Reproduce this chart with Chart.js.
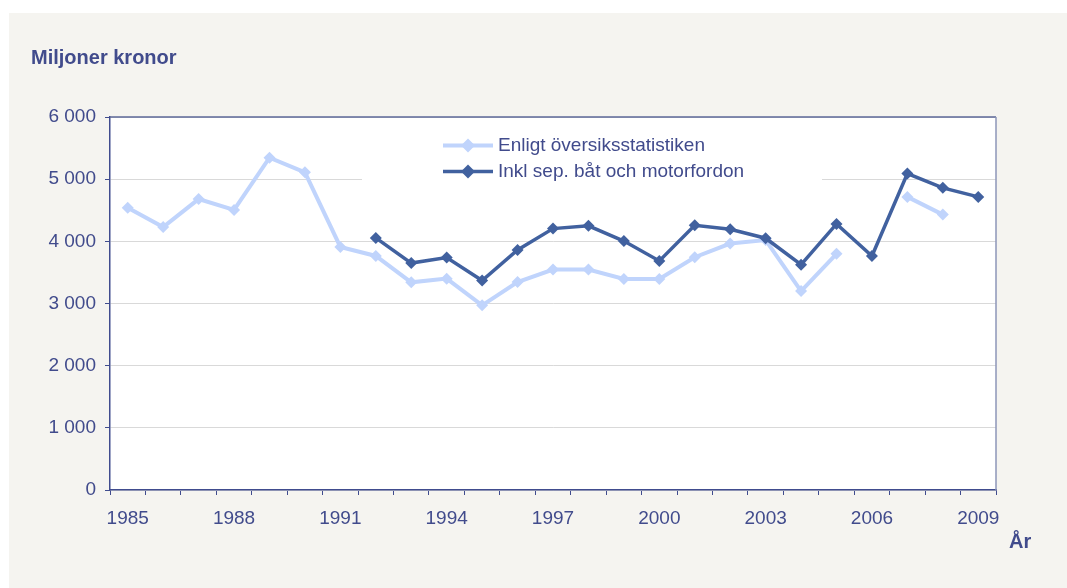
<!DOCTYPE html>
<html>
<head>
<meta charset="utf-8">
<script src="https://cdn.jsdelivr.net/npm/chart.js@4/dist/chart.umd.min.js"></script>
<style>
  html, body { margin: 0; padding: 0; background: #fff; }
  canvas { display: block; }
</style>
</head>
<body>
<canvas id="myChart" width="1067" height="588"></canvas>
<script>
// data
const years = ['1985','1986','1987','1988','1989','1990','1991','1992','1993','1994','1995','1996',
  '1997','1998','1999','2000','2001','2002','2003','2004','2005','2006','2007','2008','2009'];
const oversikt = [4540, 4230, 4680, 4505, 5345, 5110, 3910, 3765, 3340, 3400, 2970, 3345,
  3545, 3545, 3395, 3395, 3745, 3965, 4020, 3200, 3800, null, 4715, 4430, null];
const inklBat = [null, null, null, null, null, null, null, 4055, 3650, 3740, 3370, 3860,
  4205, 4250, 4005, 3685, 4258, 4195, 4050, 3625, 4280, 3765, 5090, 4860, 4715];
const seriesNames = ['Enligt översiksstatistiken', 'Inkl sep. båt och motorfordon'];
const yTicks = [0, 1000, 2000, 3000, 4000, 5000, 6000];

const textColor = '#414b8c';
const axisColor = '#404c8e';
const lightBlue = '#c0d4fc';
const darkBlue = '#41619f';
const font = '"Liberation Sans", Arial, sans-serif';

function fmt(v) {
  return String(v).replace(/\B(?=(\d{3})+(?!\d))/g, ' ');
}

const frame = {
  id: 'frame',
  beforeDraw(chart) {
    const ctx = chart.ctx, a = chart.chartArea;
    ctx.save();
    ctx.fillStyle = '#ffffff';
    ctx.fillRect(0, 0, chart.width, chart.height);
    ctx.fillStyle = '#f5f4f0';
    ctx.fillRect(9, 13, chart.width - 9, chart.height - 13);
    ctx.fillStyle = '#ffffff';
    ctx.fillRect(a.left, a.top, a.right - a.left, a.bottom - a.top);
    ctx.fillStyle = textColor;
    ctx.font = 'bold 20px ' + font;
    ctx.textBaseline = 'alphabetic';
    ctx.fillText('Miljoner kronor', 31, 64);
    ctx.fillText('År', 1009, 548);
    ctx.restore();
  },
  beforeDatasetsDraw(chart) {
    const ctx = chart.ctx, a = chart.chartArea;
    ctx.save();
    // top and right edges of the plot box
    ctx.lineWidth = 1.5;
    ctx.strokeStyle = '#5d6898';
    ctx.beginPath();
    ctx.moveTo(a.left, a.top);
    ctx.lineTo(a.right, a.top);
    ctx.stroke();
    ctx.strokeStyle = '#8d96b9';
    ctx.beginPath();
    ctx.moveTo(a.right, a.top);
    ctx.lineTo(a.right, a.bottom);
    ctx.stroke();
    // legend box inside the plot
    ctx.fillStyle = '#ffffff';
    ctx.fillRect(362, 128, 460, 58);
    chart.data.datasets.forEach((ds, i) => {
      const y = 145.5 + i * 26;
      ctx.strokeStyle = ds.borderColor;
      ctx.lineWidth = ds.borderWidth;
      ctx.beginPath();
      ctx.moveTo(443, y);
      ctx.lineTo(493, y);
      ctx.stroke();
      ctx.fillStyle = ds.borderColor;
      ctx.beginPath();
      ctx.moveTo(468, y - 7);
      ctx.lineTo(475, y);
      ctx.lineTo(468, y + 7);
      ctx.lineTo(461, y);
      ctx.closePath();
      ctx.fill();
      ctx.fillStyle = textColor;
      ctx.font = '19px ' + font;
      ctx.textBaseline = 'middle';
      ctx.fillText(ds.label, 498, y);
    });
    ctx.restore();
  }
};

new Chart(document.getElementById('myChart'), {
  type: 'line',
  data: {
    labels: years,
    datasets: [{
      label: seriesNames[0],
      data: oversikt,
      borderColor: lightBlue,
      backgroundColor: lightBlue,
      borderWidth: 4,
      pointStyle: 'rectRot',
      pointRadius: 6,
      pointBorderWidth: 0,
      spanGaps: false,
      tension: 0,
      order: 2
    }, {
      label: seriesNames[1],
      data: inklBat,
      borderColor: darkBlue,
      backgroundColor: darkBlue,
      borderWidth: 3.5,
      pointStyle: 'rectRot',
      pointRadius: 6,
      pointBorderWidth: 0,
      spanGaps: false,
      tension: 0,
      order: 1
    }]
  },
  options: {
    responsive: false,
    animation: false,
    devicePixelRatio: 1,
    layout: { padding: { left: 0, top: 117, right: 71, bottom: 0 } },
    plugins: {
      legend: { display: false },
      tooltip: { enabled: false }
    },
    scales: {
      x: {
        offset: true,
        grid: {
          offset: true,
          drawOnChartArea: false,
          color: axisColor,
          tickColor: axisColor,
          tickLength: 5
        },
        border: { color: axisColor, width: 1.5 },
        ticks: {
          autoSkip: false,
          maxRotation: 0,
          color: textColor,
          font: { family: font, size: 19 },
          padding: 12,
          callback: (v, i) => (i % 3 === 0 ? years[i] : '')
        },
        afterFit: (s) => { s.height = 98; }
      },
      y: {
        min: 0,
        max: 6000,
        afterBuildTicks: (s) => { s.ticks = yTicks.map(v => ({ value: v })); },
        grid: {
          color: '#d9d9d9',
          tickColor: axisColor,
          tickLength: 5
        },
        border: { color: axisColor, width: 1.5 },
        ticks: {
          color: textColor,
          font: { family: font, size: 19 },
          padding: 9,
          callback: (v) => fmt(v)
        },
        afterFit: (s) => { s.width = 110; }
      }
    }
  },
  plugins: [frame]
});
</script>
</body>
</html>
